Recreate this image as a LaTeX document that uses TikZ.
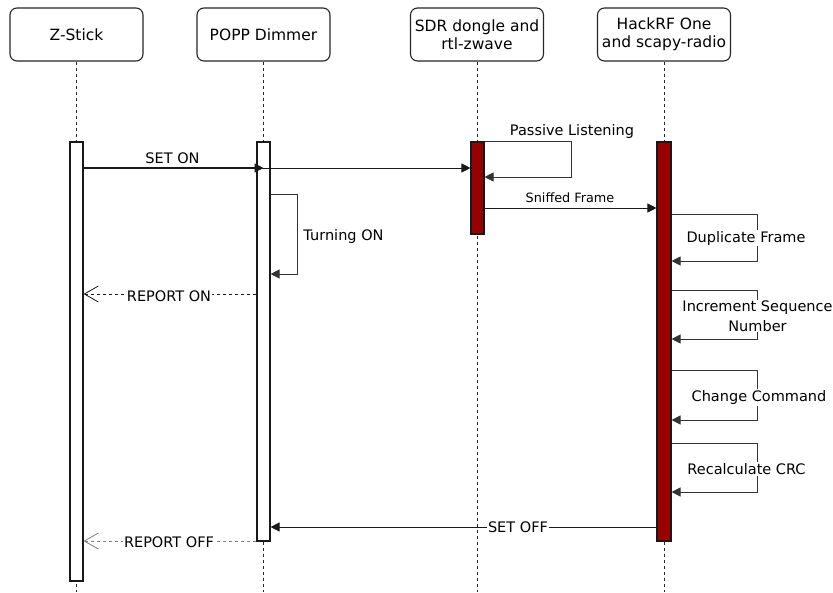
\documentclass[tikz,border=0pt]{standalone}
\usepackage{fontspec}
\setmainfont{DejaVu Sans}
\usetikzlibrary{arrows.meta}
\begin{document}
\begin{tikzpicture}[x=1pt,y=-1pt,
  hdr/.style={draw=black!85, line width=1.1pt, rounded corners=7pt, minimum width=133pt, minimum height=53pt, align=center, inner sep=0pt, font=\fontsize{15.5}{18}\selectfont},
  actbox/.style={draw=black!90, fill=white, line width=1.1pt, minimum width=13pt, inner sep=0pt},
  actred/.style={actbox, fill={rgb,255:red,153;green,0;blue,0}},
  life/.style={line width=0.8pt, black!85, dash pattern=on 3pt off 3pt},
  msg/.style={line width=0.9pt, black!90, -{Triangle[length=9pt,width=9pt]}},
  loopar/.style={line width=0.9pt, black!80, -{Triangle[length=9pt,width=9pt]}},
  ret/.style={line width=0.8pt, black!90, dash pattern=on 3pt off 3pt, -{Straight Barb[length=14pt,width=16pt,line width=0.8pt]}},
  retgray/.style={ret, black!50},
  lbl/.style={inner sep=1pt, font=\fontsize{14.5}{20}\selectfont, align=center},
  lblw/.style={lbl, fill=white},
  lblsmall/.style={inner sep=1pt, font=\fontsize{12.8}{15}\selectfont}
]
\useasboundingbox (0,0) rectangle (833,592);
\fill[white] (0,0) rectangle (833,592);
\coordinate (bot) at (0,592);

% headers
\node[hdr] (zh) at (76.5,34.5) {Z-Stick};
\node[hdr] (ph) at (263.5,34.5) {POPP Dimmer};
\node[hdr] (sh) at (477,34.5) {SDR dongle and\\rtl-zwave};
\node[hdr] (hh) at (664,34.5) {HackRF One\\and scapy-radio};

% lifelines
\draw[life] (zh.south) -- (zh.south |- bot);
\draw[life] (ph.south) -- (ph.south |- bot);
\draw[life] (sh.south) -- (sh.south |- bot);
\draw[life] (hh.south) -- (hh.south |- bot);

% activations
\node[actbox, minimum height=439pt] (za) at (76.5,361.5) {};
\node[actbox, minimum height=399pt] (pa) at (263.5,341.5) {};
\node[actred, minimum height=92pt] (sa) at (477.5,188) {};
\node[actred, minimum width=14pt, minimum height=399pt] (ha) at (664,341.5) {};

% y levels
\coordinate (ySetOn) at (0,168);
\coordinate (yPL1) at (0,141);
\coordinate (yPL2) at (0,177);
\coordinate (ySniff) at (0,208);
\coordinate (yT1) at (0,194);
\coordinate (yT2) at (0,274);
\coordinate (yRepOn) at (0,294);
\coordinate (yD1) at (0,214);
\coordinate (yD2) at (0,261);
\coordinate (yI1) at (0,290);
\coordinate (yI2) at (0,339);
\coordinate (yC1) at (0,370);
\coordinate (yC2) at (0,420);
\coordinate (yR1) at (0,443);
\coordinate (yR2) at (0,492);
\coordinate (ySetOff) at (0,527);
\coordinate (yRepOff) at (0,541);
\coordinate (xPL) at (571,0);
\coordinate (xT) at (297,0);
\coordinate (xH) at (757,0);

% SET ON
\draw[msg] (za.east |- ySetOn) -- (sa.west |- ySetOn);
\draw[msg, line width=1.3pt] (za.east |- ySetOn) -- (pa.center |- ySetOn);
\node[lbl] (lSetOn) at (172.5,158) {SET ON};

% Passive Listening
\draw[loopar] (sa.east |- yPL1) -- (xPL |- yPL1) -- (xPL |- yPL2) -- (sa.east |- yPL2);
\node[lbl] (lPL) at (572,131) {Passive Listening};

% Sniffed Frame
\draw[msg] (sa.east |- ySniff) -- (ha.west |- ySniff);
\node[lblsmall] (lSniff) at (570,198) {Sniffed Frame};

% Turning ON
\draw[loopar] (pa.east |- yT1) -- (xT |- yT1) -- (xT |- yT2) -- (pa.east |- yT2);
\node[lbl] (lTurn) at (343.5,236) {Turning ON};

% REPORT ON
\draw[ret] (pa.west |- yRepOn) -- (za.east |- yRepOn);
\node[lblw] (lRepOn) at (169,296) {REPORT ON};

% HackRF loops
\draw[loopar] (ha.east |- yD1) -- (xH |- yD1) -- (xH |- yD2) -- (ha.east |- yD2);
\node[lblw] (lDup) at (746,238) {Duplicate Frame};
\draw[loopar] (ha.east |- yI1) -- (xH |- yI1) -- (xH |- yI2) -- (ha.east |- yI2);
\node[lblw] (lInc) at (757.5,316) {Increment Sequence\\Number};
\draw[loopar] (ha.east |- yC1) -- (xH |- yC1) -- (xH |- yC2) -- (ha.east |- yC2);
\node[lblw] (lChg) at (759,397.5) {Change Command};
\draw[loopar] (ha.east |- yR1) -- (xH |- yR1) -- (xH |- yR2) -- (ha.east |- yR2);
\node[lblw] (lCRC) at (746.5,469) {Recalculate CRC};

% SET OFF
\draw[msg] (ha.west |- ySetOff) -- (pa.east |- ySetOff);
\node[lblw] (lSetOff) at (518,527) {SET OFF};

% REPORT OFF
\draw[retgray] (pa.west |- yRepOff) -- (za.east |- yRepOff);
\node[lblw] (lRepOff) at (169,542) {REPORT OFF};
\end{tikzpicture}
\end{document}
